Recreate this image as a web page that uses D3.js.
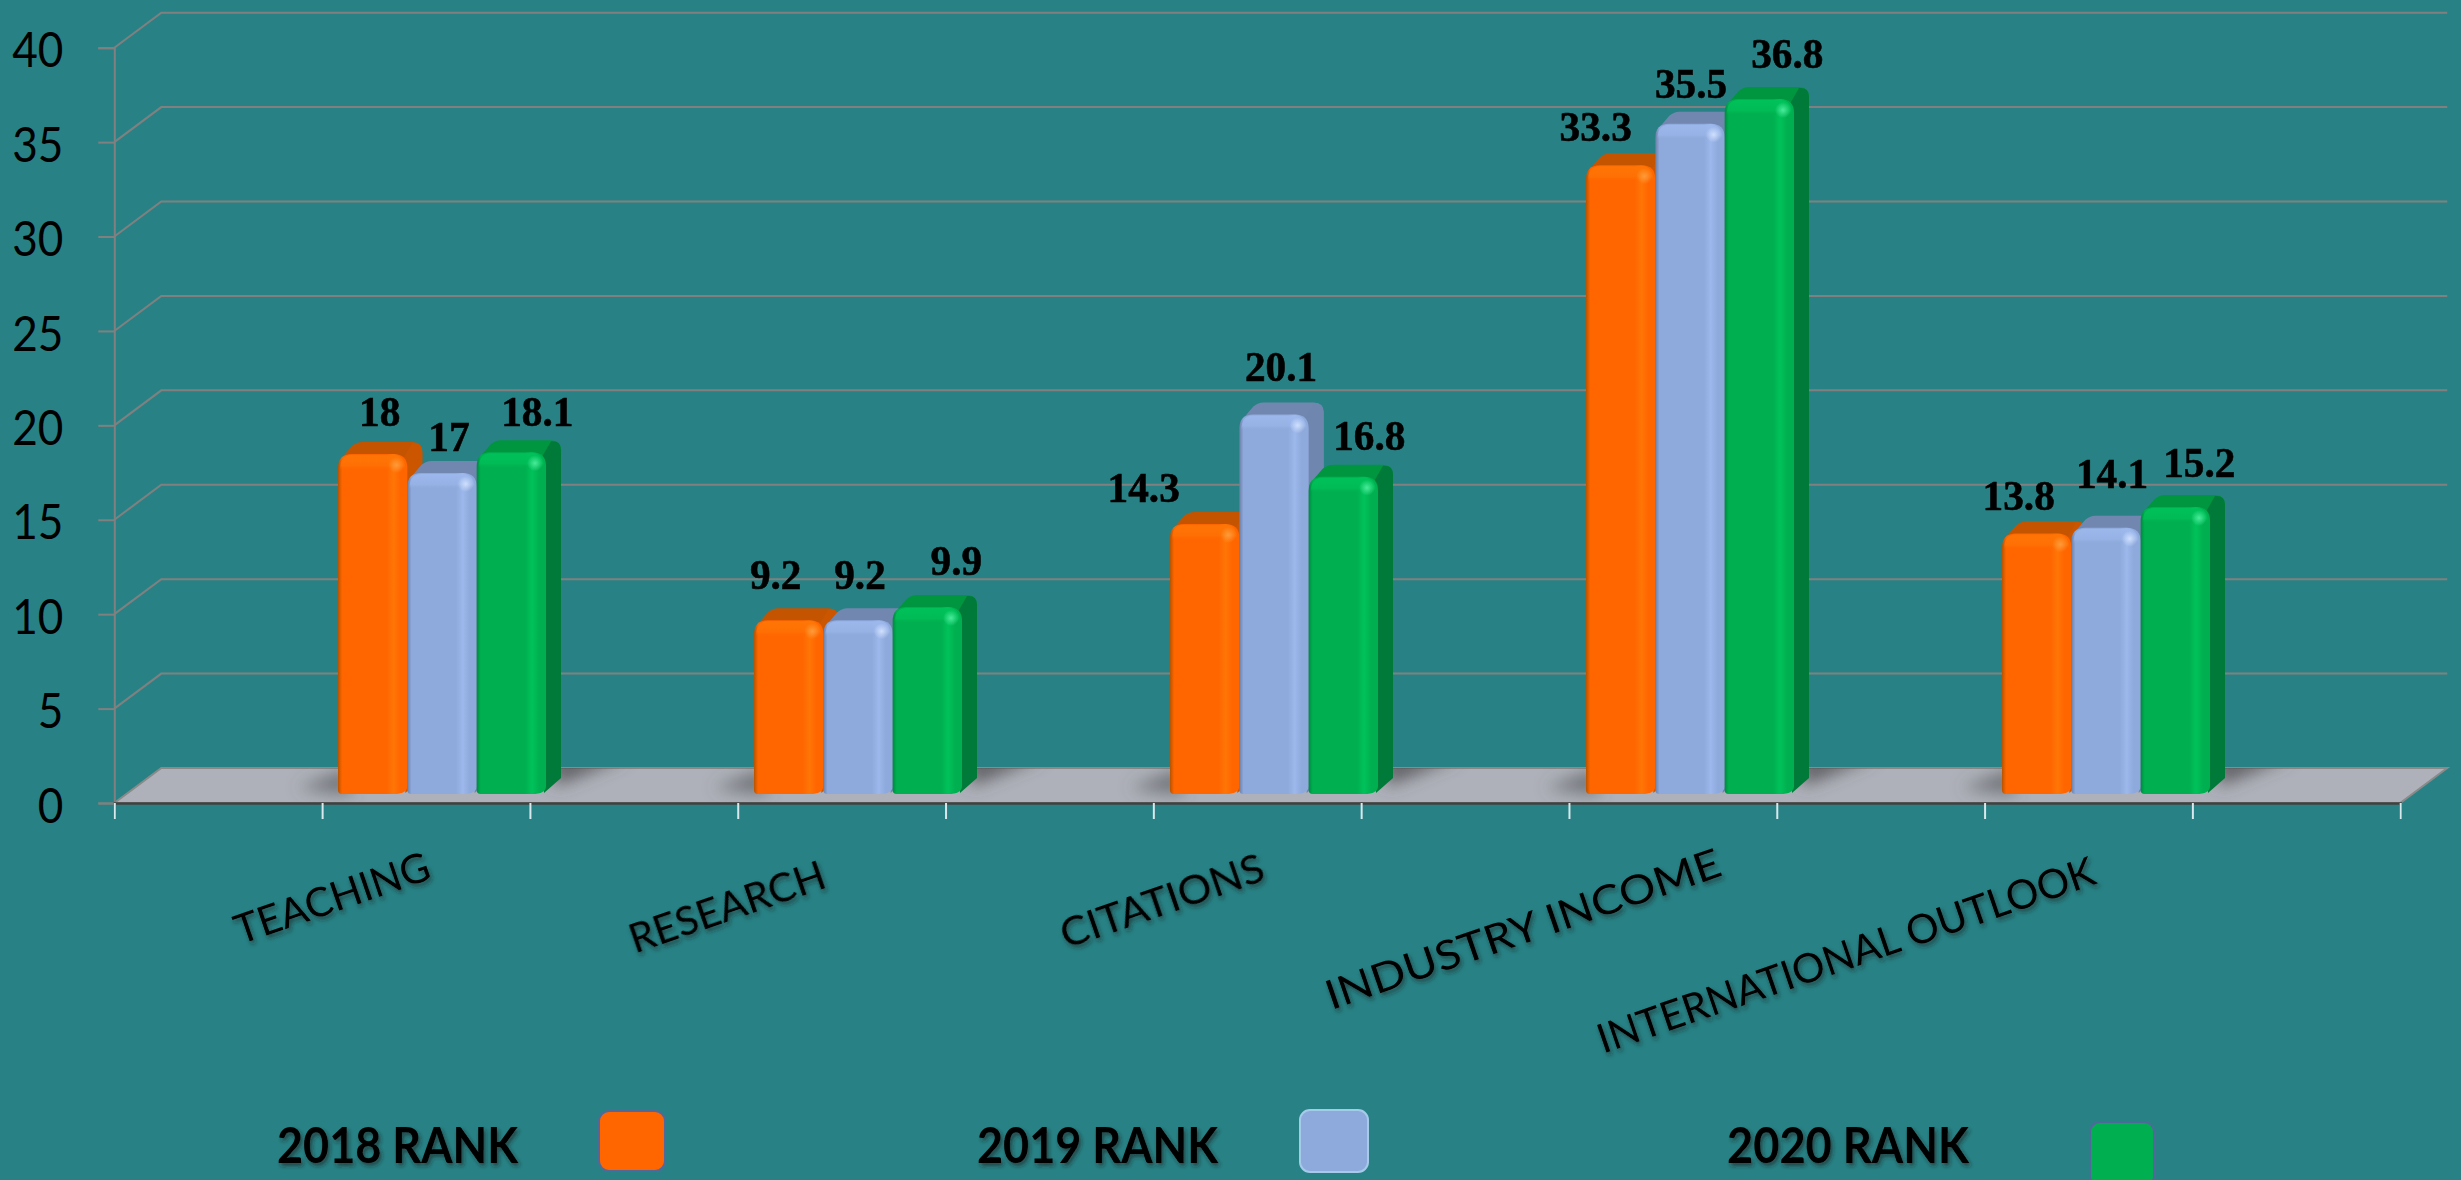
<!DOCTYPE html>
<html><head><meta charset="utf-8">
<style>html,body{margin:0;padding:0;background:#288285;overflow:hidden}svg{display:block}</style>
<script src="https://cdn.jsdelivr.net/npm/d3@7/dist/d3.min.js"></script>
</head><body><svg id="c" width="2461" height="1180"></svg>
<script>
const categories = ["TEACHING","RESEARCH","CITATIONS","INDUSTRY INCOME","INTERNATIONAL OUTLOOK"];
const seriesNames = ["2018 RANK","2019 RANK","2020 RANK"];
const rank2018 = [18,9.2,14.3,33.3,13.8];
const rank2019 = [17,9.2,20.1,35.5,14.1];
const rank2020 = [18.1,9.9,16.8,36.8,15.2];
const yTicks = [0,5,10,15,20,25,30,35,40];

const seriesValues = [rank2018,rank2019,rank2020];
// label nudges relative to each bar: [dx, dy] per category per series
const labelNudge = [
 [[7,-28],[7,-22],[26,-26]],
 [[-13,-31],[2,-31],[29,-32]],
 [[-61,-22],[7,-33],[26,-27]],
 [[-25,-24],[1,-26],[28,-31]],
 [[-18,-23],[6,-40],[24,-30]]];
const categoryLabelPos = [[332,898],[727,907],[1162,901],[1523,929],[1846,955]];
const categoryLabelStretch = [1,1,1.04,1.125,1];
const legendPos = [
 {tx:277,tw:241,bx:599,by:1111,bw:66,bh:60},
 {tx:977,tw:241,bx:1300,by:1110,bw:68,bh:62},
 {tx:1727,tw:242,bx:2090,by:1122,bw:64,bh:64}];
const palette = [
 {main:"#FF6600",light:"#FF7606",dark:"#B85300",top:"#C45400",side:"#CC5600",spec:"#FFA040",stroke:"#4F6A9A"},
 {main:"#8EA9DB",light:"#9CB8EC",dark:"#6B80A8",top:"#7187B0",side:"#6F86AF",spec:"#D5E4FF",stroke:"#A5CBE8"},
 {main:"#00B050",light:"#00C25A",dark:"#008A3E",top:"#009640",side:"#007A38",spec:"#50F0A0",stroke:"#4F6A9A"}];

const svg = d3.select("#c");
const W=2461,H=1180;
const depthX=47, depthY=35, barDX=15, barDY=12, floorInset=9;
const y = d3.scaleLinear().domain([0,40]).range([803,47.7]);
const xTick = d3.scaleLinear().domain([0,11]).range([114.3,2400.2]);
const x0 = d3.scaleBand().domain(categories).range([338,2210]).paddingInner(0.5).paddingOuter(0);
const x1 = d3.scaleBand().domain(d3.range(3)).range([0,x0.bandwidth()]);

svg.append("rect").attr("width",W).attr("height",H).attr("fill","#288285");

const defs = svg.append("defs");
palette.forEach((p,i)=>{
  const g=defs.append("linearGradient").attr("id","front"+i);
  [[0,p.dark],[0.06,p.main],[0.7,p.main],[0.8,p.light],[0.9,p.main],[1,p.main]]
    .forEach(s=>g.append("stop").attr("offset",s[0]).attr("stop-color",s[1]));
  const t=defs.append("linearGradient").attr("id","bevel"+i).attr("x1",0).attr("x2",0).attr("y1",0).attr("y2",1);
  t.append("stop").attr("offset",0).attr("stop-color",p.light).attr("stop-opacity",0.95);
  t.append("stop").attr("offset",0.7).attr("stop-color",p.light).attr("stop-opacity",0.6);
  t.append("stop").attr("offset",1).attr("stop-color",p.main).attr("stop-opacity",0);
  const r=defs.append("radialGradient").attr("id","spec"+i);
  r.append("stop").attr("offset",0).attr("stop-color",p.spec).attr("stop-opacity",0.9);
  r.append("stop").attr("offset",1).attr("stop-color",p.spec).attr("stop-opacity",0);
});
defs.append("filter").attr("id","blur").attr("x","-50%").attr("y","-50%").attr("width","200%").attr("height","200%")
  .append("feGaussianBlur").attr("stdDeviation",8);
const ds=defs.append("filter").attr("id","tshadow").attr("x","-10%").attr("y","-20%").attr("width","120%").attr("height","150%");
ds.append("feDropShadow").attr("dx",2).attr("dy",3).attr("stdDeviation",2).attr("flood-color","#222").attr("flood-opacity",0.6);
const floorPts=[[xTick(0),y(0)],[xTick(0)+depthX,y(0)-depthY],[xTick(11)+depthX,y(0)-depthY],[xTick(11),y(0)]];
defs.append("clipPath").attr("id","floorClip").append("polygon").attr("points",floorPts.join(" "));

// gridlines on back and side walls
const grid=svg.append("g").attr("fill","none").attr("stroke","#808080").attr("stroke-width",2);
yTicks.filter(v=>v>0).forEach(v=>{
  grid.append("polyline").attr("points",[[xTick(0),y(v)],[xTick(0)+depthX,y(v)-depthY],[xTick(11)+depthX,y(v)-depthY]].join(" "));
});

// floor
svg.append("polygon").attr("points",floorPts.join(" ")).attr("fill","#AEB1B9").attr("stroke","#8A8A8A").attr("stroke-width",2);
const shadows=svg.append("g").attr("clip-path","url(#floorClip)").append("g").attr("filter","url(#blur)");
categories.forEach(c=>{
  const l=x0(c), r=l+x0.bandwidth()+barDX, b=y(0);
  shadows.append("polygon").attr("fill","#55565A").attr("opacity",0.85)
    .attr("points",[[r-10,b-depthY-12],[r+68,b-depthY-12],[r+20,b-depthY+8],[r-6,b-depthY+18]].join(" "));
  shadows.append("polygon").attr("fill","#5E6064").attr("opacity",0.75)
    .attr("points",[[l+12,b-depthY],[l+12,b-8],[l-40,b-depthY+20]].join(" "));
});

// axes
const labelScaleX=0.9;
const yAxis=d3.axisLeft(y).tickValues(yTicks).tickSize(16).tickPadding(35).tickFormat(d3.format("d"));
const gy=svg.append("g").attr("transform",`translate(${xTick(0)},0)`).call(yAxis);
gy.select(".domain").attr("stroke","#808080").attr("stroke-width",2);
gy.selectAll("line").attr("stroke","#808080").attr("stroke-width",2);
gy.selectAll("text").attr("font-family","Lato").attr("font-size",49).attr("fill","#000").attr("dy","0.39em")
  .attr("x",-51/labelScaleX).attr("transform",`scale(${labelScaleX},1)`);

const xAxis=d3.axisBottom(xTick).tickValues(d3.range(12)).tickSize(16).tickFormat("");
const gx=svg.append("g").attr("transform",`translate(0,${y(0)})`).call(xAxis);
gx.select(".domain").attr("stroke","#404040").attr("stroke-width",2.5);
gx.selectAll("line").attr("stroke","#D8E8EC").attr("stroke-width",2);

// bars
const yBar=v=>y(v)-floorInset;
const bars=svg.append("g");
categories.forEach((c,ci)=>{
  seriesValues.forEach((vals,si)=>{
    const v=vals[ci], p=palette[si];
    const xx=x0(c)+x1(si), w=x1.bandwidth(), top=yBar(v), base=yBar(0);
    const g=bars.append("g");
    const rx=xx+w+barDX;
    const sil=d3.path();
    sil.moveTo(rx,base-barDY-4);
    sil.lineTo(rx,top-2);
    sil.quadraticCurveTo(rx,top-barDY,rx-10,top-barDY);
    sil.lineTo(xx+24,top-barDY);
    sil.quadraticCurveTo(xx+19,top-barDY,xx+14,top-barDY+4);
    sil.lineTo(xx+2,top+6);
    sil.lineTo(xx+w,top+30);
    sil.closePath();
    g.append("path").attr("d",sil.toString()).attr("fill",p.top);
    const side=d3.path();
    side.moveTo(xx+w-6,top+8);
    side.lineTo(rx-10,top-barDY+1);
    side.quadraticCurveTo(rx,top-barDY,rx,top-2);
    side.lineTo(rx,base-barDY-4);
    side.lineTo(xx+w-2,base-1);
    side.closePath();
    g.append("path").attr("d",side.toString()).attr("fill",p.side);
    const f=d3.path();
    const r=14;
    f.moveTo(xx,base-4);
    f.lineTo(xx,top+r);
    f.quadraticCurveTo(xx,top,xx+r,top);
    f.lineTo(xx+w-r,top);
    f.quadraticCurveTo(xx+w,top,xx+w,top+r);
    f.lineTo(xx+w,base-8);
    f.quadraticCurveTo(xx+w,base,xx+w-14,base);
    f.lineTo(xx+4,base);
    f.quadraticCurveTo(xx,base,xx,base-4);
    f.closePath();
    g.append("path").attr("d",f.toString()).attr("fill",`url(#front${si})`);
    const b=d3.path();
    b.moveTo(xx+2,top+16);
    b.quadraticCurveTo(xx+2,top+1,xx+r,top+1);
    b.lineTo(xx+w-r,top+1);
    b.quadraticCurveTo(xx+w-2,top+1,xx+w-2,top+16);
    b.closePath();
    g.append("path").attr("d",b.toString()).attr("fill",`url(#bevel${si})`);
    g.append("circle").attr("cx",xx+w-11).attr("cy",top+11).attr("r",8).attr("fill",`url(#spec${si})`);
  });
});

// data labels
const labels=svg.append("g").attr("font-family","'Liberation Serif'").attr("font-weight","bold").attr("font-size",43).attr("fill","#000").attr("text-anchor","middle").attr("stroke","#000").attr("stroke-width",0.6);
categories.forEach((c,ci)=>{
  seriesValues.forEach((vals,si)=>{
    const n=labelNudge[ci][si];
    labels.append("text")
      .attr("transform",`translate(${x0(c)+x1(si)+x1.bandwidth()/2+n[0]},${yBar(vals[ci])+n[1]}) scale(0.96,1)`)
      .text(vals[ci]);
  });
});

// category labels
const cl=svg.append("g").attr("font-family","Lato").attr("font-size",40.5).attr("fill","#000").attr("text-anchor","middle").attr("filter","url(#tshadow)");
categories.forEach((c,i)=>{
  const q=categoryLabelPos[i];
  cl.append("text").attr("transform",`translate(${q[0]},${q[1]}) rotate(-19) scale(${categoryLabelStretch[i]},1)`).attr("dy","0.35em").text(c);
});

// legend
seriesNames.forEach((s,i)=>{
  const q=legendPos[i];
  svg.append("text").attr("x",q.tx).attr("y",1163).attr("font-family","Lato").attr("font-weight","bold").attr("font-size",49)
    .attr("fill","#000").attr("textLength",q.tw).attr("lengthAdjust","spacingAndGlyphs").attr("filter","url(#tshadow)").text(s);
  svg.append("rect").attr("x",q.bx).attr("y",q.by).attr("width",q.bw).attr("height",q.bh).attr("rx",10)
    .attr("fill",palette[i].main).attr("stroke",palette[i].stroke).attr("stroke-width",2);
});
</script></body></html>
